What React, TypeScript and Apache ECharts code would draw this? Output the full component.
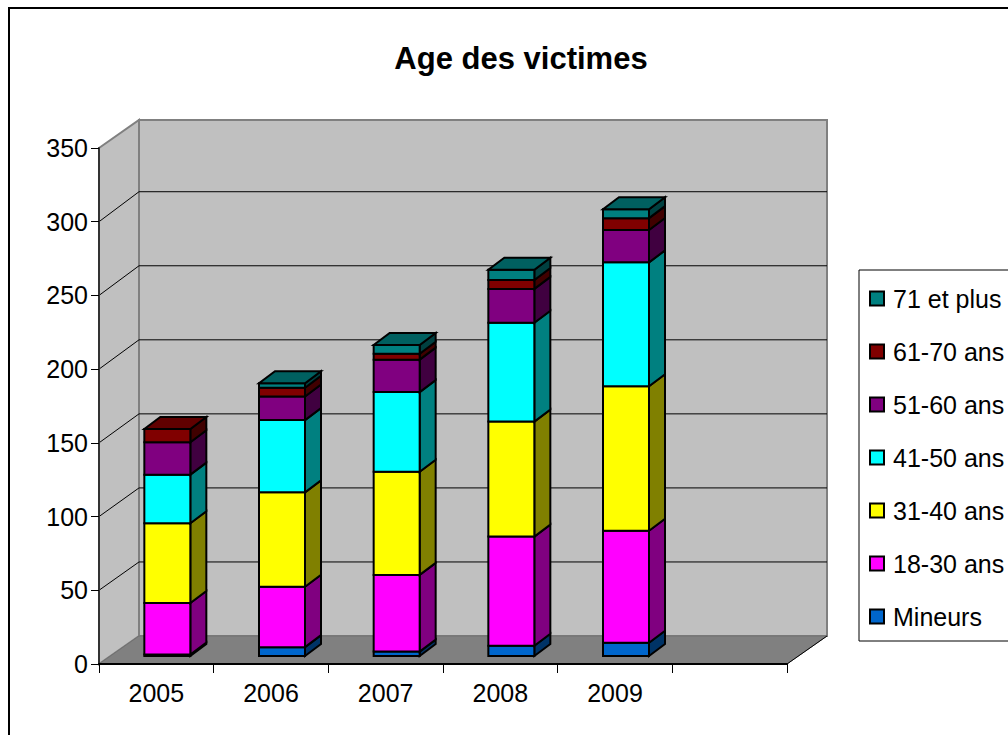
import React, { useEffect, useRef } from "react";
import * as echarts from "echarts";

const title = "Age des victimes";
const categories = ["2005", "2006", "2007", "2008", "2009", ""];
const yTicks = [0, 50, 100, 150, 200, 250, 300, 350];

const seriesNames = ["Mineurs", "18-30 ans", "31-40 ans", "41-50 ans", "51-60 ans", "61-70 ans", "71 et plus"];
const mineurs = [1, 6, 3, 7, 9];
const ans18 = [35, 41, 52, 74, 76];
const ans31 = [54, 64, 70, 78, 98];
const ans41 = [33, 49, 54, 67, 84];
const ans51 = [22, 16, 22, 23, 22];
const ans61 = [9, 6, 4, 6, 8];
const plus71 = [0, 3, 6, 7, 6];
const seriesValues = [mineurs, ans18, ans31, ans41, ans51, ans61, plus71];
const colors = ["#0066CC", "#FF00FF", "#FFFF00", "#00FFFF", "#800080", "#800000", "#008080"];
const sideColors = ["#003366", "#800080", "#808000", "#008080", "#400040", "#400000", "#004040"];
const topColors = ["#004C99", "#BF00BF", "#BFBF00", "#00BFBF", "#600060", "#600000", "#006060"];

const FONT = "'Liberation Sans', Arial, sans-serif";
const WALL_DX = 40;
const WALL_DY = -28;
const BAR_DX = 11;
const BAR_DY = -8;
const BAR_W = 46;
const SIDE_DX = 16;
const SIDE_DY = -12;

function renderWalls(params: any, api: any) {
  const cs = params.coordSys;
  const v = api.value(0);
  const left = cs.x;
  const right = cs.x + cs.width;
  const top = cs.y;
  const bottom = cs.y + cs.height;
  const y = api.coord([0, v])[1];
  const children: any[] = [];
  if (params.dataIndex === 0) {
    const bl = left + WALL_DX;
    const br = right + WALL_DX;
    const bt = top + WALL_DY;
    const bb = bottom + WALL_DY;
    children.push({
      type: "polygon",
      shape: { points: [[bl, bt], [br, bt], [br, bb], [bl, bb]] },
      style: { fill: "#C0C0C0", stroke: "#808080", lineWidth: 2 },
    });
    children.push({
      type: "polygon",
      shape: { points: [[left, top], [bl, bt], [bl, bb], [left, bottom]] },
      style: { fill: "#C0C0C0", stroke: "#808080", lineWidth: 2 },
    });
    children.push({
      type: "polygon",
      shape: { points: [[left, bottom], [bl, bb], [br, bb], [right, bottom]] },
      style: { fill: "#808080", stroke: "#707070", lineWidth: 1 },
    });
    children.push({
      type: "line",
      shape: { x1: right, y1: bottom, x2: br, y2: bb },
      style: { stroke: "#000", lineWidth: 1 },
    });
  } else if (v < yTicks[yTicks.length - 1]) {
    const by = bottom + WALL_DY - (bottom - y) * 1.0045;
    children.push({
      type: "polyline",
      shape: { points: [[left, y], [left + WALL_DX, by], [right + WALL_DX, by]] },
      style: { stroke: "#000", lineWidth: 1, fill: "none" },
    });
  }
  return { type: "group", children };
}

function makeRenderBar(si: number) {
  return (params: any, api: any) => {
    const cat = api.value(0);
    const base = api.value(1);
    const val = api.value(2);
    if (val === base) return null;
    const isTop = api.value(3) === 1;
    const c = api.coord([cat, base]);
    const t = api.coord([cat, val]);
    const x0 = c[0] - BAR_W / 2 + BAR_DX;
    const x1 = x0 + BAR_W;
    const y0 = c[1] + BAR_DY;
    const y1 = t[1] + BAR_DY;
    const st = (fill: string) => ({ fill, stroke: "#000", lineWidth: 2, lineJoin: "miter" });
    const children: any[] = [
      {
        type: "polygon",
        shape: { points: [[x1, y0], [x1 + SIDE_DX, y0 + SIDE_DY], [x1 + SIDE_DX, y1 + SIDE_DY], [x1, y1]] },
        style: st(sideColors[si]),
      },
      {
        type: "polygon",
        shape: { points: [[x0, y0], [x1, y0], [x1, y1], [x0, y1]] },
        style: st(colors[si]),
      },
    ];
    if (isTop) {
      children.push({
        type: "polygon",
        shape: { points: [[x0, y1], [x1, y1], [x1 + SIDE_DX, y1 + SIDE_DY], [x0 + SIDE_DX, y1 + SIDE_DY]] },
        style: st(topColors[si]),
      });
    }
    return { type: "group", children };
  };
}

function buildBars() {
  const totals = categories.slice(0, 5).map((_, i) => seriesValues.reduce((s, a) => s + a[i], 0));
  const running = totals.map(() => 0);
  return seriesValues.map((vals, si) => {
    const data = vals.map((v, i) => {
      const base = running[i];
      running[i] += v;
      return [i, base, running[i], running[i] === totals[i] && v > 0 ? 1 : 0];
    });
    return {
      type: "custom",
      name: seriesNames[si],
      renderItem: makeRenderBar(si),
      data,
      encode: { x: 0, y: [1, 2] },
      clip: false,
      z: 3,
      itemStyle: { color: colors[si] },
    };
  });
}

export default function App() {
  const ref = useRef<HTMLDivElement>(null);
  useEffect(() => {
    const chart = echarts.init(ref.current!, null, { renderer: "svg" });
    chart.setOption({
      animation: false,
      backgroundColor: "#fff",
      title: {
        text: title,
        left: 516,
        top: 38,
        textAlign: "center",
        textStyle: { fontFamily: FONT, fontSize: 31, fontWeight: "bold", color: "#000" },
      },
      grid: { left: 99, top: 148, width: 688, height: 516 },
      xAxis: {
        type: "category",
        data: categories,
        z: 5,
        axisLine: { lineStyle: { color: "#000", width: 2 } },
        axisTick: { show: true, alignWithLabel: false, length: 9, lineStyle: { color: "#000", width: 1 } },
        axisLabel: { fontFamily: FONT, fontSize: 25, color: "#000", margin: 16, interval: 0 },
      },
      yAxis: {
        type: "value",
        min: 0,
        max: 350,
        interval: 50,
        z: 5,
        axisLine: { show: true, lineStyle: { color: "#333", width: 2 } },
        axisTick: { show: true, length: 8, lineStyle: { color: "#000", width: 1 } },
        axisLabel: { fontFamily: FONT, fontSize: 25, color: "#000", margin: 11 },
        splitLine: { show: false },
      },
      legend: {
        orient: "vertical",
        left: 859,
        top: 270,
        data: [...seriesNames].reverse(),
        icon: "rect",
        itemWidth: 14,
        itemHeight: 14,
        itemGap: 28,
        padding: [16, 12, 12, 10],
        backgroundColor: "#fff",
        borderColor: "#000",
        borderWidth: 1,
        selectedMode: false,
        itemStyle: { borderColor: "#000", borderWidth: 2 },
        textStyle: { fontFamily: FONT, fontSize: 25, color: "#000", lineHeight: 14, padding: [0, 0, 0, 4] },
      },
      graphic: [
        {
          type: "rect",
          shape: { x: 9, y: 8, width: 1100, height: 800 },
          style: { fill: "none", stroke: "#000", lineWidth: 2 },
          silent: true,
          z: 100,
        },
      ],
      series: [
        {
          type: "custom",
          name: "walls",
          renderItem: renderWalls,
          data: yTicks.map((v) => [v]),
          encode: { y: 0 },
          clip: false,
          silent: true,
          z: 1,
        },
        ...buildBars(),
      ],
    });
    return () => chart.dispose();
  }, []);
  return <div ref={ref} style={{ position: "fixed", left: 0, top: 0, width: 1008, height: 735 }} />;
}
